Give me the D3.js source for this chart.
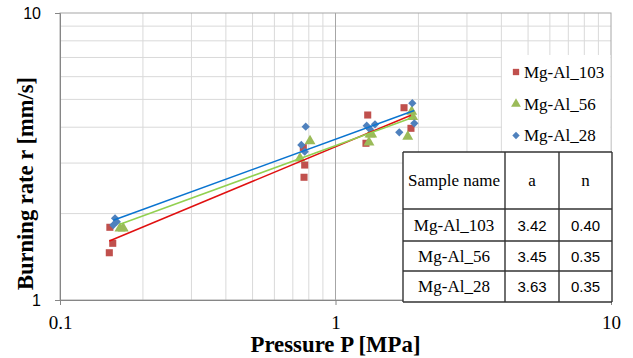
<!DOCTYPE html>
<html><head><meta charset="utf-8">
<script src="https://cdn.jsdelivr.net/npm/d3@7"></script>
<style>html,body{margin:0;padding:0;background:#fff;}svg{display:block;}
.serif{font-family:"Liberation Serif","Times New Roman",serif;}
.sans{font-family:"Liberation Sans",Arial,sans-serif;}
</style>
</head><body>
<svg id="c" width="633" height="358"></svg>
<script>
// ---- data ----
const seriesNames = ["Mg-Al_103", "Mg-Al_56", "Mg-Al_28"];
const p103 = [0.1517, 0.1554, 0.151, 0.7641, 0.7731, 0.7687, 1.309, 1.290, 1.773, 1.879];
const r103 = [1.792, 1.576, 1.461, 3.394, 2.953, 2.677, 4.411, 3.516, 4.677, 3.965];
const p56 = [0.1651, 0.1697, 0.8081, 0.7432, 1.334, 1.353, 1.323, 1.891, 1.829, 1.906];
const r56 = [1.778, 1.778, 3.581, 3.117, 3.778, 3.778, 3.544, 4.530, 3.707, 4.351];
const p28 = [0.1584, 0.1561, 0.1607, 0.7796, 0.7515, 0.7731, 1.298, 1.391, 1.334, 1.704, 1.900, 1.932];
const r28 = [1.926, 1.825, 1.874, 4.016, 3.468, 3.287, 4.048, 4.094, 3.933, 3.839, 4.848, 4.127];
const fitA = [3.42, 3.45, 3.63];
const fitN = [0.40, 0.35, 0.35];
const xTicks = [0.1, 1, 10];
const yTicks = [1, 10];
const xMinor = [0.2,0.3,0.4,0.5,0.6,0.7,0.8,0.9,2,3,4,5,6,7,8,9];
const yMinor = [2,3,4,5,6,7,8,9];
const tableHeader = ["Sample name", "a", "n"];

// ---- styles ----
const markerFill = ["#c0504d", "#9bbb59", "#4f81bd"];
const lineColor = ["#e01010", "#92d050", "#0a74d0"];
const symbols = [d3.symbolSquare, d3.symbolTriangle, d3.symbolSquare];
const symSize = [50, 52, 34];
const symRot = [0, 0, 45];

const svg = d3.select("#c");
const L = 60, R = 611, T = 13, B = 300;
const x = d3.scaleLog().domain([0.1, 10]).range([L, R]);
const y = d3.scaleLog().domain([1, 10]).range([B, T]);

svg.append("rect").attr("width", 633).attr("height", 358).attr("fill", "#fff");

// gridlines
const g = svg.append("g");
g.selectAll(".vx").data(xMinor).join("line")
  .attr("x1", d => x(d)).attr("x2", d => x(d)).attr("y1", T).attr("y2", B)
  .attr("stroke", "#d9d9d9").attr("stroke-width", 1);
g.selectAll(".hy").data(yMinor).join("line")
  .attr("y1", d => y(d)).attr("y2", d => y(d)).attr("x1", L).attr("x2", R)
  .attr("stroke", "#d9d9d9").attr("stroke-width", 1);
g.append("line").attr("x1", x(1)).attr("x2", x(1)).attr("y1", T).attr("y2", B)
  .attr("stroke", "#a6a6a6").attr("stroke-width", 1);
svg.append("rect").attr("x", L).attr("y", T).attr("width", R - L).attr("height", B - T)
  .attr("fill", "none").attr("stroke", "#a6a6a6").attr("stroke-width", 1);

// axes
const xAxis = d3.axisBottom(x).tickValues(xTicks).tickSize(5).tickFormat(d => d3.format("~g")(d));
const xa = svg.append("g").attr("transform", `translate(0,${B})`).call(xAxis);
xa.attr("font-family", null);
xa.select(".domain").attr("stroke", "#868686");
xa.selectAll(".tick line").attr("stroke", "#868686");
xa.selectAll(".tick text").attr("class", "serif")
  .attr("font-size", 19).attr("fill", "#000").attr("dy", null).attr("y", 29);

const yAxis = d3.axisLeft(y).tickValues(yTicks).tickSize(5).tickFormat(d => d3.format("~g")(d));
const ya = svg.append("g").attr("transform", `translate(${L},0)`).call(yAxis);
ya.attr("font-family", null);
ya.select(".domain").attr("stroke", "#868686");
ya.selectAll(".tick line").attr("stroke", "#868686");
ya.selectAll(".tick text").attr("class", "sans")
  .attr("font-size", 16).attr("fill", "#000").attr("x", -19).attr("dy", "0.35em");

// series
const series = [[p103, r103], [p56, r56], [p28, r28]];
series.forEach((s, i) => {
  const pts = s[0].map((p, j) => [p, s[1][j]]);
  svg.append("g").selectAll("path").data(pts).join("path")
    .attr("d", d3.symbol().type(symbols[i]).size(symSize[i]))
    .attr("transform", d => `translate(${x(d[0])},${y(d[1])}) rotate(${symRot[i]})`)
    .attr("fill", markerFill[i]);
});
// trend lines r = a P^n
series.forEach((s, i) => {
  const ext = d3.extent(s[0]);
  const f = p => fitA[i] * Math.pow(p, fitN[i]);
  svg.append("line")
    .attr("x1", x(ext[0])).attr("y1", y(f(ext[0])))
    .attr("x2", x(ext[1])).attr("y2", y(f(ext[1])))
    .attr("stroke", lineColor[i]).attr("stroke-width", 1.5);
});

// axis titles
svg.append("text").attr("class", "serif").attr("x", x(1)).attr("y", 352).attr("text-anchor", "middle")
  .attr("font-weight", "bold")
  .attr("font-size", 23).attr("textLength", 170).attr("lengthAdjust", "spacingAndGlyphs")
  .text("Pressure P [MPa]");
svg.append("text").attr("class", "serif").attr("transform", "translate(33,183.5) rotate(-90)").attr("text-anchor", "middle")
  .attr("font-weight", "bold")
  .attr("font-size", 23).attr("textLength", 213).attr("lengthAdjust", "spacingAndGlyphs")
  .text("Burning rate r [mm/s]");

// legend
const lg = svg.append("g");
lg.append("rect").attr("x", 502).attr("y", 55).attr("width", 108.5).attr("height", 97).attr("fill", "#fff");
const legY = [72, 104, 135.5];
seriesNames.forEach((nm, i) => {
  lg.append("path").attr("d", d3.symbol().type(symbols[i]).size(symSize[i] * 0.8)())
    .attr("transform", `translate(516,${legY[i]}) rotate(${symRot[i]})`).attr("fill", markerFill[i]);
  lg.append("text").attr("class", "serif").attr("x", 524).attr("y", legY[i] + 5.5)
    .attr("font-size", 17).attr("fill", "#000").text(nm);
});

// table
const tx = [403, 505, 559, 612];
const ty = [152, 209, 241, 271, 302];
const tg = svg.append("g");
tg.append("rect").attr("x", tx[0]).attr("y", ty[0]).attr("width", tx[3] - tx[0]).attr("height", ty[4] - ty[0]).attr("fill", "#fff");
const rows = [tableHeader].concat(seriesNames.map((nm, i) => [nm, fitA[i].toFixed(2), fitN[i].toFixed(2)]));
rows.forEach((row, ri) => {
  const cy = (ty[ri] + ty[ri + 1]) / 2;
  row.forEach((cell, ci) => {
    const cx = (tx[ci] + tx[ci + 1]) / 2;
    const isNum = ri > 0 && ci > 0;
    tg.append("text").attr("class", isNum ? "sans" : "serif").attr("x", cx).attr("y", cy + 5.5).attr("text-anchor", "middle")
      .attr("font-size", isNum ? 15 : 17).attr("fill", "#000").text(cell);
  });
});
ty.forEach(v => tg.append("line").attr("x1", tx[0]).attr("x2", tx[3]).attr("y1", v).attr("y2", v)
  .attr("stroke", "#333").attr("stroke-width", 1.4));
tx.forEach(v => tg.append("line").attr("x1", v).attr("x2", v).attr("y1", ty[0]).attr("y2", ty[4])
  .attr("stroke", "#333").attr("stroke-width", 1.4));
</script>
</body></html>
